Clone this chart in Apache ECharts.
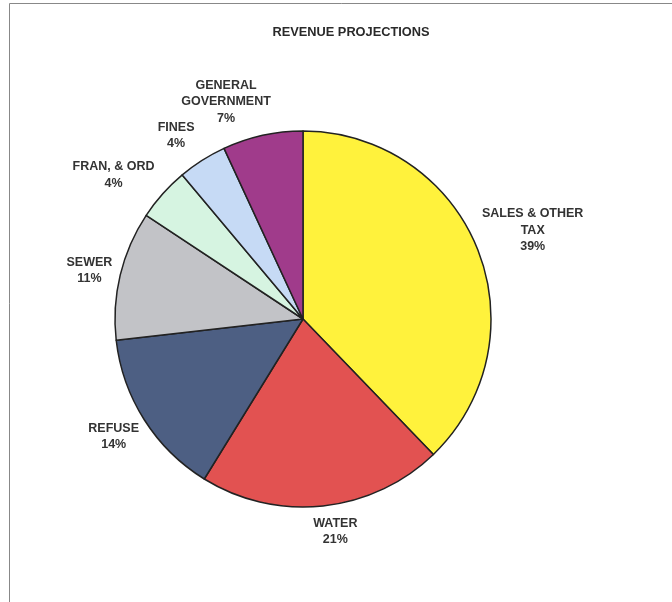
<!DOCTYPE html>
<html>
<head>
<meta charset="utf-8">
<title>Revenue Projections</title>
<script src="https://cdn.jsdelivr.net/npm/echarts@6/dist/echarts.min.js"></script>
<style>
  html, body { margin: 0; padding: 0; background: #fff; }
  #chart { width: 672px; height: 602px; }
</style>
</head>
<body>
<div id="chart"></div>
<script>
// slice names, clockwise from 12 o'clock
const categories = ['SALES & OTHER\nTAX', 'WATER', 'REFUSE', 'SEWER', 'FRAN, & ORD', 'FINES', 'GENERAL\nGOVERNMENT'];
// shares
const values = [37.8, 21.0, 14.4, 11.1, 4.6, 4.2, 6.9];
// percentages as printed on the chart
const percentLabels = ['39%', '21%', '14%', '11%', '4%', '4%', '7%'];

const colors = ['#fff23c', '#e25251', '#4d5f83', '#c2c3c7', '#d6f4e1', '#c6daf5', '#a03b8b'];
// small shifts so labels sit where the original put them
const labelNudge = [[0, 4], [10, 4], [-1, -2], [-3, 2], [-27, 1], [-13, -4], [-30, -4]];

const cx = 303;
const cy = 319;
const R = 188;
const gap = 5;

const chart = echarts.init(document.getElementById('chart'));

const total = values.reduce((a, b) => a + b, 0);

const option = {
  animation: false,
  backgroundColor: '#fff',
  title: {
    text: 'REVENUE PROJECTIONS',
    left: 346,
    top: 21,
    textAlign: 'center',
    textStyle: {
      fontFamily: 'Liberation Sans',
      fontSize: 12.8,
      fontWeight: 'bold',
      color: '#2a2a2a',
    },
  },
  graphic: [
    {
      type: 'rect',
      shape: { x: 9.5, y: 3.5, width: 700, height: 700 },
      style: { fill: 'none', stroke: '#888', lineWidth: 1 },
      silent: true,
    },
  ],
  series: [
    {
      type: 'pie',
      center: [cx, cy],
      radius: R,
      startAngle: 90,
      clockwise: true,
      avoidLabelOverlap: false,
      emphasis: { disabled: true },
      itemStyle: {
        borderColor: '#222',
        borderWidth: 1.5,
      },
      label: {
        show: true,
        position: 'outside',
        fontFamily: 'Liberation Sans',
        fontSize: 12.5,
        fontWeight: 'bold',
        lineHeight: 16.5,
        color: '#333',
        align: 'center',
        formatter: (p) => `${p.name}\n${percentLabels[p.dataIndex]}`,
      },
      labelLine: { show: false },
      labelLayout: (params) => {
        const i = params.dataIndex;
        let before = 0;
        for (let k = 0; k < i; k++) before += values[k];
        const mid = ((before + values[i] / 2) / total) * Math.PI * 2;
        const dx = Math.sin(mid);
        const dy = -Math.cos(mid);
        const hw = params.labelRect.width / 2;
        const hh = params.labelRect.height / 2;
        const ext = Math.min(
          Math.abs(dx) > 1e-6 ? hw / Math.abs(dx) : Infinity,
          Math.abs(dy) > 1e-6 ? hh / Math.abs(dy) : Infinity
        );
        const d = R + gap + ext;
        return {
          x: cx + d * dx + labelNudge[i][0],
          y: cy + d * dy + labelNudge[i][1],
          align: 'center',
          verticalAlign: 'middle',
        };
      },
      data: categories.map((name, i) => ({
        name,
        value: values[i],
        itemStyle: { color: colors[i] },
      })),
    },
  ],
};

chart.setOption(option);
</script>
</body>
</html>
